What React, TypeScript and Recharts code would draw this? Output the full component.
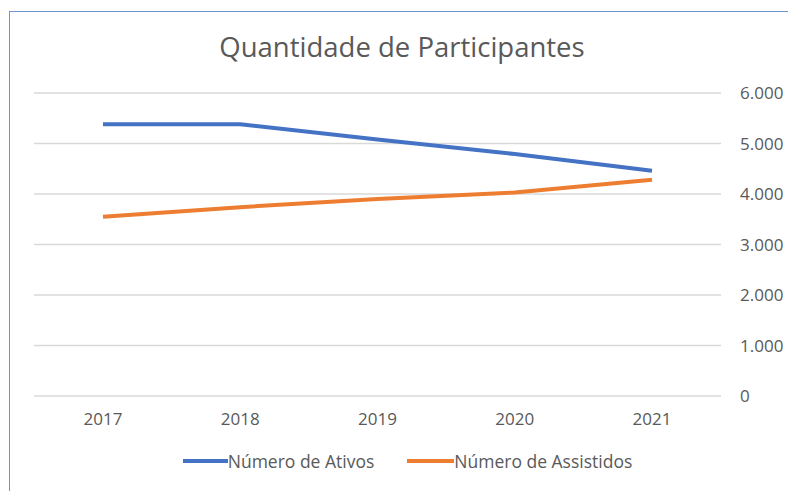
import React from "react";
import { LineChart, Line, XAxis, YAxis, CartesianGrid, Legend } from "recharts";

const years = ["2017", "2018", "2019", "2020", "2021"];
const ativos = [5380, 5380, 5080, 4790, 4460];
const assistidos = [3550, 3740, 3900, 4030, 4280];
const yTicks = [0, 1000, 2000, 3000, 4000, 5000, 6000];

const seriesNames = { ativos: "Número de Ativos", assistidos: "Número de Assistidos" };
const title = "Quantidade de Participantes";

const data = years.map((y, i) => ({ year: y, ativos: ativos[i], assistidos: assistidos[i] }));

const fmt = (v: number) => String(v).replace(/\B(?=(\d{3})+(?!\d))/g, ".");

const FONT = "'Open Sans', sans-serif";
const TXT = "#595959";

const LegendContent = () => (
  <div
    style={{
      display: "flex",
      justifyContent: "center",
      alignItems: "center",
      height: 50,
      paddingRight: 7,
      fontFamily: FONT,
      fontSize: 17.5,
      color: TXT,
    }}
  >
    <div style={{ display: "flex", alignItems: "center", marginRight: 33 }}>
      <div style={{ width: 45, height: 4, background: "#4472C4" }} />
      <span>{seriesNames.ativos}</span>
    </div>
    <div style={{ display: "flex", alignItems: "center" }}>
      <div style={{ width: 47, height: 4, background: "#ED7D31" }} />
      <span>{seriesNames.assistidos}</span>
    </div>
  </div>
);

export default function App() {
  return (
    <div style={{ position: "absolute", left: 0, top: 0, width: 788, height: 491, background: "#fff" }}>
      <div
        style={{
          position: "absolute",
          left: 9,
          top: 11,
          width: 779,
          height: 480,
          borderLeft: "1.5px solid #6f93d2",
          borderTop: "1.5px solid #6f93d2",
          boxSizing: "border-box",
        }}
      />
      <div
        style={{
          position: "absolute",
          left: 0,
          top: 28,
          width: 804,
          textAlign: "center",
          fontFamily: FONT,
          fontSize: 27.5,
          color: TXT,
        }}
      >
        {title}
      </div>
      <div style={{ position: "absolute", left: 0, top: 0 }}>
        <LineChart
          width={788}
          height={491}
          data={data}
          margin={{ top: 93, right: 0, left: 34, bottom: 5 }}
        >
          <CartesianGrid horizontal vertical={false} stroke="#d9d9d9" strokeWidth={1.5} />
          <XAxis
            dataKey="year"
            height={40}
            axisLine={false}
            tickLine={false}
            tickSize={0}
            tickMargin={17}
            padding={{ left: 69, right: 69 }}
            tick={{ fill: TXT, fontSize: 17, fontFamily: FONT }}
          />
          <YAxis
            orientation="right"
            width={67}
            domain={[0, 6000]}
            ticks={yTicks}
            axisLine={false}
            tickLine={false}
            tickSize={0}
            tickMargin={19}
            tickFormatter={fmt}
            tick={{ fill: TXT, fontSize: 17, fontFamily: FONT, textAnchor: "start" }}
          />
          <Legend verticalAlign="bottom" height={50} content={<LegendContent />} />
          <Line
            type="linear"
            dataKey="ativos"
            name={seriesNames.ativos}
            stroke="#4472C4"
            strokeWidth={4}
            dot={false}
            isAnimationActive={false}
          />
          <Line
            type="linear"
            dataKey="assistidos"
            name={seriesNames.assistidos}
            stroke="#ED7D31"
            strokeWidth={4}
            dot={false}
            isAnimationActive={false}
          />
        </LineChart>
      </div>
    </div>
  );
}
